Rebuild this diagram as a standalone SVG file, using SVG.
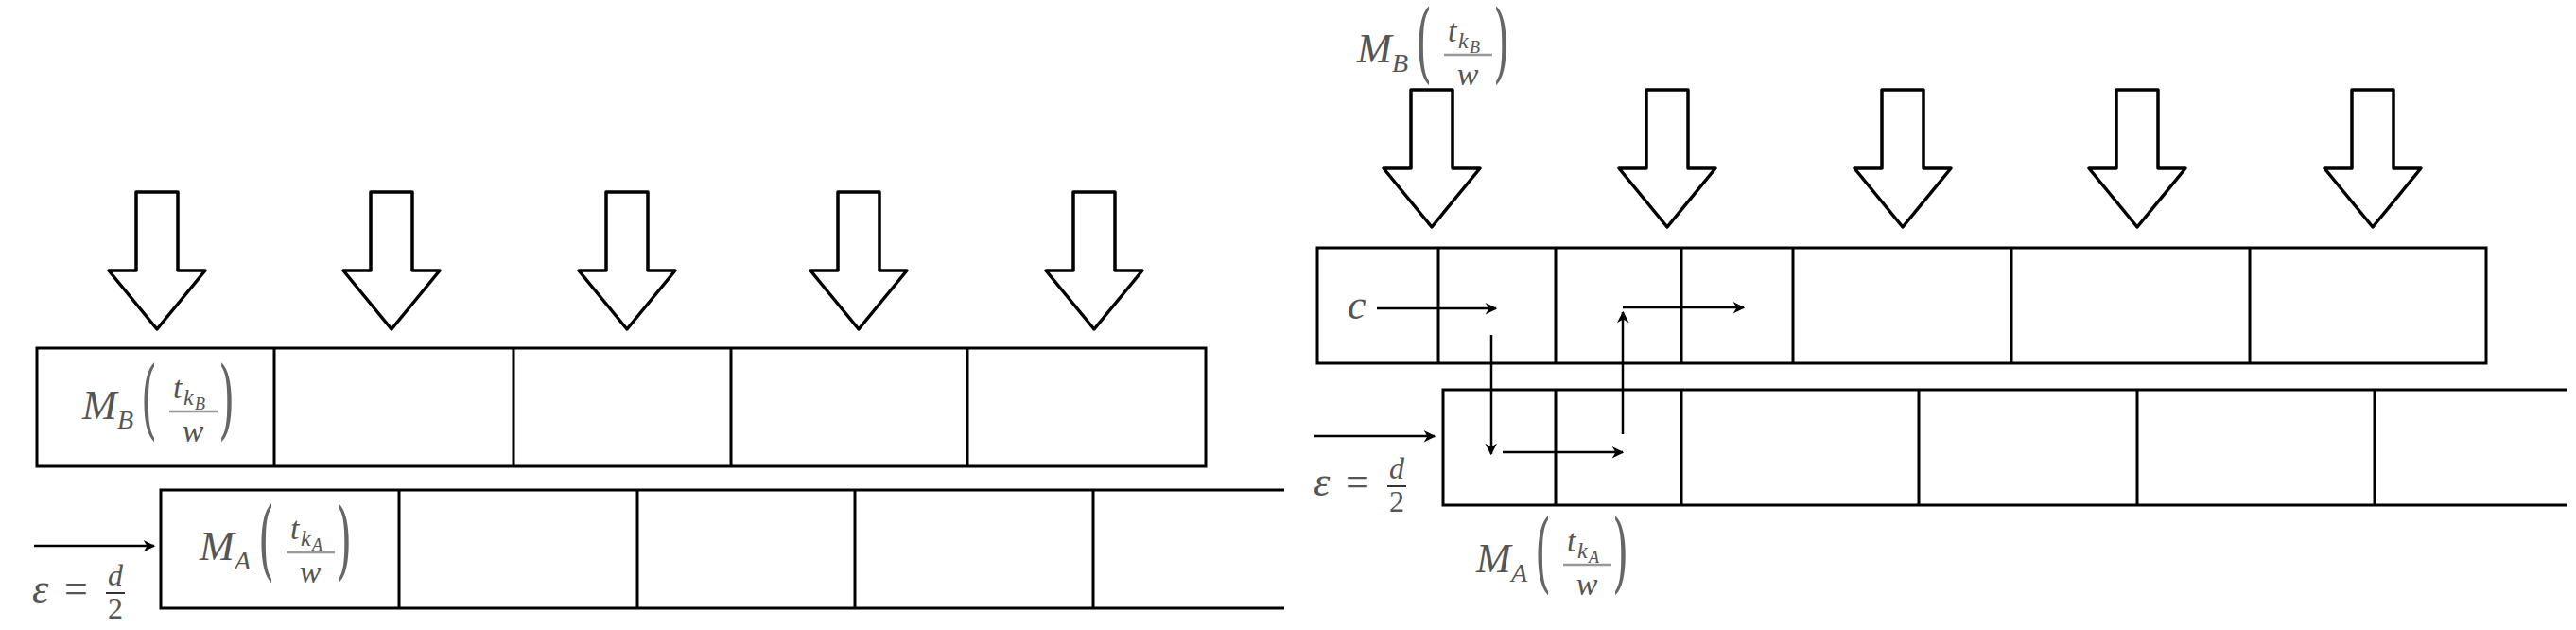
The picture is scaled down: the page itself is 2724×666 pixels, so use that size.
<svg xmlns="http://www.w3.org/2000/svg" width="2724" height="666" viewBox="0 0 2724 666">
<defs>
<style>
.box{fill:none;stroke:#000;stroke-width:3}
.ln{stroke:#000;stroke-width:3;fill:none}
.big{fill:#fff;stroke:#000;stroke-width:3.5;stroke-linejoin:round}
.m{font-family:"Liberation Serif",serif;font-style:italic;fill:#555}
.r{font-family:"Liberation Serif",serif;fill:#555}
.p{font-family:"DejaVu Serif",serif;fill:#666;font-weight:200}
.fl{stroke:#999;stroke-width:2.5}
.con{stroke:#000;stroke-width:2.5;fill:none;marker-end:url(#ah)}
</style>
<marker id="ah" viewBox="0 0 10 10" refX="9" refY="5" markerWidth="7" markerHeight="7" orient="auto" markerUnits="userSpaceOnUse" style="overflow:visible">
<path d="M0,0 L10,5 L0,10 L3,5 Z" fill="#000" transform="scale(1.8) translate(-4,-2)"/>
</marker>
<g id="mb">
<text class="m" x="0" y="0" font-size="44">M</text>
<text class="m" x="37" y="10" font-size="28">B</text>
<text class="p" x="0" y="0" font-size="44" transform="translate(62,10) scale(1,2.1)">(</text>
<text class="m" x="96" y="-22" font-size="34">t</text>
<text class="m" x="107" y="-15" font-size="24">k</text>
<text class="m" x="119" y="-10" font-size="18">B</text>
<line class="fl" x1="92" y1="-8" x2="143" y2="-8"/>
<text class="m" x="117" y="24" font-size="34" text-anchor="middle">w</text>
<text class="p" x="0" y="0" font-size="44" transform="translate(144,10) scale(1,2.1)">)</text>
</g>
<g id="ma">
<text class="m" x="0" y="0" font-size="44">M</text>
<text class="m" x="37" y="10" font-size="28">A</text>
<text class="p" x="0" y="0" font-size="44" transform="translate(62,10) scale(1,2.1)">(</text>
<text class="m" x="96" y="-22" font-size="34">t</text>
<text class="m" x="107" y="-15" font-size="24">k</text>
<text class="m" x="119" y="-10" font-size="18">A</text>
<line class="fl" x1="92" y1="-8" x2="143" y2="-8"/>
<text class="m" x="117" y="24" font-size="34" text-anchor="middle">w</text>
<text class="p" x="0" y="0" font-size="44" transform="translate(144,10) scale(1,2.1)">)</text>
</g>
<g id="eps">
<text class="m" x="0" y="0" font-size="44">ε</text>
<text class="r" x="34" y="0" font-size="44">=</text>
<text class="m" x="88" y="-18" font-size="32" text-anchor="middle">d</text>
<line x1="78" y1="-10" x2="98" y2="-10" stroke="#333" stroke-width="2"/>
<text class="r" x="88" y="17" font-size="32" text-anchor="middle">2</text>
</g>
<path id="arrL" d="M-22,0 H22 V83 H51 L0,145 L-51,83 H-22 Z"/>
</defs>

<g id="left-arrows" class="big">
<use href="#arrL" x="166" y="203"/>
<use href="#arrL" x="414" y="203"/>
<use href="#arrL" x="663" y="203"/>
<use href="#arrL" x="908" y="203"/>
<use href="#arrL" x="1157" y="203"/>
</g>
<g id="left-rowB">
<rect class="box" x="39" y="368" width="1236" height="125"/>
<path class="ln" d="M290,368V493M543,368V493M773,368V493M1023,368V493"/>
<use href="#mb" x="87" y="443"/>
</g>
<g id="left-rowA">
<path class="ln" d="M1358,518H170V643H1358M422,518V643M674,518V643M904,518V643M1156,518V643"/>
<use href="#ma" x="211" y="592"/>
</g>
<g id="left-eps">
<use href="#eps" x="34" y="637"/>
</g>

<g id="right-panel" transform="translate(-7,0)">
<g id="right-arrows" class="big">
<use href="#arrL" x="1521" y="95"/>
<use href="#arrL" x="1770" y="95"/>
<use href="#arrL" x="2019" y="95"/>
<use href="#arrL" x="2267" y="95"/>
<use href="#arrL" x="2516" y="95"/>
</g>
<g id="right-label-B">
<use href="#mb" x="1442" y="66"/>
</g>
<g id="right-rowB">
<rect class="box" x="1400" y="262" width="1236" height="122"/>
<path class="ln" d="M1528,262V384M1652,262V384M1785,262V384M1903,262V384M2134,262V384M2386,262V384"/>
<text class="m" x="1432" y="337" font-size="44">c</text>
</g>
<g id="right-rowA">
<path class="ln" d="M2722,412H1533V534H2722M1652,412V534M1785,412V534M2036,412V534M2267,412V534M2518,412V534"/>
</g>
<g id="right-label-A">
<use href="#ma" x="1568" y="605"/>
</g>
<g id="right-eps">
<use href="#eps" x="1396" y="524"/>
</g>
<g id="connectors">
<line class="con" x1="1397" y1="461" x2="1524" y2="461"/>
<line class="con" x1="1463" y1="326" x2="1589" y2="326"/>
<line class="con" x1="1584" y1="354" x2="1584" y2="480"/>
<line class="con" x1="1596" y1="478" x2="1723" y2="478"/>
<line class="con" x1="1723" y1="459" x2="1723" y2="330"/>
<line class="con" x1="1723" y1="325" x2="1851" y2="325"/>
</g>
</g>
<g id="connectors-left">
<line class="con" x1="36" y1="577" x2="163" y2="577"/>
</g>
</svg>
